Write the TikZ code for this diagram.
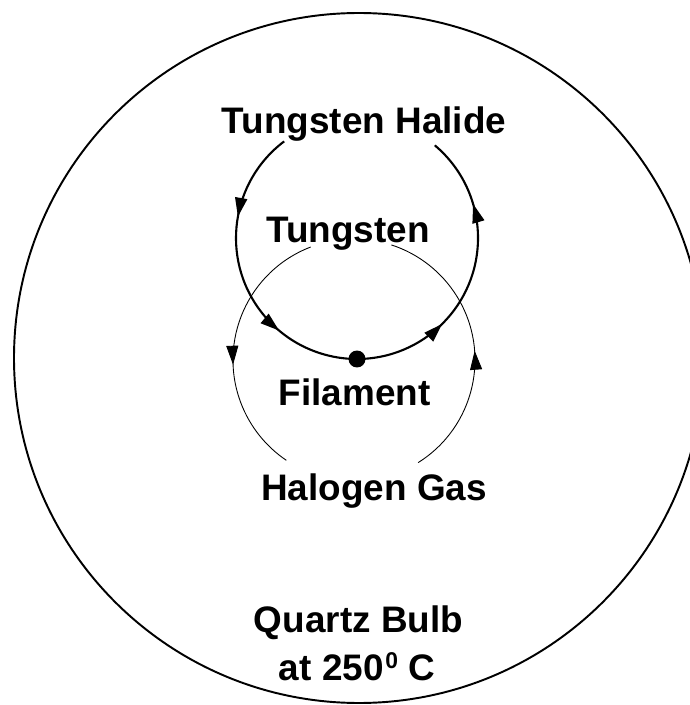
\documentclass[tikz,border=0pt]{standalone}
\usepackage{fontspec}
\setmainfont{Liberation Sans}
\usetikzlibrary{arrows.meta,decorations.markings}

\tikzset{
    flowtip/.tip={Triangle[length=0.38cm,width=0.24cm]},
    flow/.style={postaction={decorate,decoration={markings,
        mark=at position #1 with {\arrow{flowtip}}}}},
    label/.style={font=\fontsize{21}{25}\selectfont\bfseries, anchor=base, inner sep=0pt},
}

\begin{document}
\begin{tikzpicture}
    \clip (0,0) rectangle (13.8,14.1);

    % quartz bulb
    \coordinate (bulb) at (7.18,6.94);
    \draw[line width=1.1pt] (bulb) circle (6.9);

    % centres of the two cycles
    \coordinate (halide) at (7.14,9.34);
    \coordinate (gas) at (7.08,6.90);

    \node[label] (tw)  at (7.28,11.42) {Tungsten Halide};
    \node[label] (tun) at (6.96,9.24)  {Tungsten};
    \node[label] (fl)  at (7.09,5.98)  {Filament};
    \node[label] (hal) at (7.48,4.08)  {Halogen Gas};
    \node[label] (qb)  at (7.17,1.46)  {Quartz Bulb};
    \node[label] (tmp) at (7.14,0.50)  {at 250\kern1pt\raisebox{6.8pt}{\fontsize{13}{13}\selectfont 0} C};

    % tungsten halide cycle
    \draw[line width=1.2pt, flow=0.30, flow=0.72] (halide) ++(127:2.42) arc[start angle=127, end angle=270, radius=2.42];
    \draw[line width=1.2pt, flow=0.32, flow=0.76] (halide) ++(270:2.42) arc[start angle=270, end angle=410, radius=2.42];

    % halogen gas cycle
    \draw[line width=0.5pt, flow=0.57] (gas) ++(111:2.42) arc[start angle=111, end angle=236, radius=2.42];
    \draw[line width=0.5pt, flow=0.48] (gas) ++(302:2.42) arc[start angle=302, end angle=432, radius=2.42];

    \node[circle, fill, inner sep=0pt, minimum size=0.34cm] (fil) at (7.14,6.92) {};
\end{tikzpicture}
\end{document}
